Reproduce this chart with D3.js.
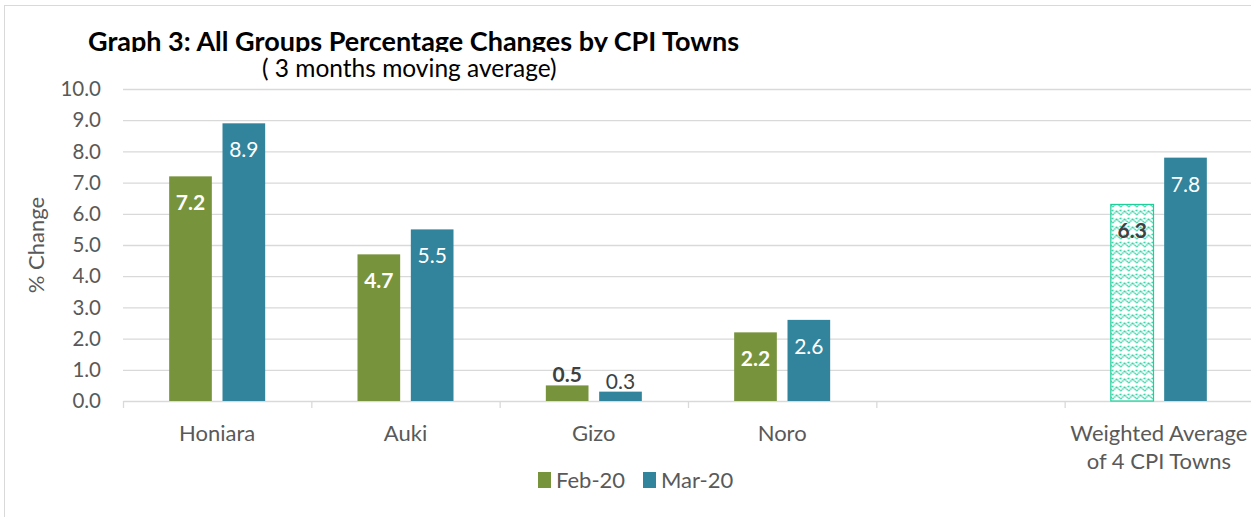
<!DOCTYPE html>
<html>
<head>
<meta charset="utf-8">
<title>Graph 3</title>
<script src="https://d3js.org/d3.v7.min.js"></script>
<style>
  body { margin: 0; background: #fff; }
  svg { font-family: Lato, "Open Sans", sans-serif; }
</style>
</head>
<body>
<div id="chart"></div>
<script>
// data
const towns = ["Honiara", "Auki", "Gizo", "Noro", "", "Weighted Average|of 4 CPI Towns"];
const feb20 = [7.2, 4.7, 0.5, 2.2, null, 6.3];
const mar20 = [8.9, 5.5, 0.3, 2.6, null, 7.8];
const seriesNames = ["Feb-20", "Mar-20"];
const yTicks = [0, 1, 2, 3, 4, 5, 6, 7, 8, 9, 10];

const W = 1251, H = 517;
const margin = { top: 89, right: -2, bottom: 116, left: 123 };
const width = W - margin.left - margin.right;
const height = H - margin.top - margin.bottom;

const green = "#77933c", teal = "#31849b", hatch = "#1ccf9b";

const svg = d3.select("#chart").append("svg")
  .attr("width", W).attr("height", H);

// outer frame
svg.append("rect")
  .attr("x", 4.5).attr("y", 5.5)
  .attr("width", W + 10).attr("height", H + 10)
  .attr("fill", "none").attr("stroke", "#d9d9d9");

// zigzag pattern for the weighted Feb bar
const defs = svg.append("defs");
const pat = defs.append("pattern")
  .attr("id", "zig").attr("patternUnits", "userSpaceOnUse")
  .attr("width", 8).attr("height", 8);
pat.append("rect").attr("width", 8).attr("height", 8).attr("fill", "#fff");
pat.append("path")
  .attr("d", "M0,6 L4,2 L8,6 M-1,3 L1,1 M7,1 L9,3")
  .attr("stroke", hatch).attr("stroke-width", 1.3).attr("fill", "none")
  .attr("stroke-dasharray", "1.5,0.6");

// title box is cut off at the bottom in the original
const titleBox = svg.append("svg")
  .attr("x", 0).attr("y", 0).attr("width", W).attr("height", 52)
  .style("overflow", "hidden");

const g = svg.append("g")
  .attr("transform", `translate(${margin.left},${margin.top})`);

const x = d3.scaleBand().domain(d3.range(towns.length)).range([0, width]);
const x1 = d3.scaleBand().domain([0, 1]).range([x.bandwidth() / 2 - 48, x.bandwidth() / 2 + 48]).paddingInner(0.2);
const y = d3.scaleLinear().domain([0, 10]).range([height, 0]);

// grid
g.selectAll(".grid").data(yTicks.slice(1)).join("line")
  .attr("x1", 0).attr("x2", width)
  .attr("y1", d => y(d) + 0.5).attr("y2", d => y(d) + 0.5)
  .attr("stroke", "#d9d9d9").attr("stroke-width", 1.3);

// y axis labels
g.selectAll(".ylab").data(yTicks).join("text")
  .attr("x", -22).attr("y", d => y(d)).attr("dy", "0.35em")
  .attr("text-anchor", "end").attr("fill", "#595959")
  .style("font-size", "20.5px")
  .text(d => d.toFixed(1));

// x axis
const xAxis = g.append("g").attr("transform", `translate(0,${height})`)
  .call(d3.axisBottom(x).tickSize(0).tickFormat(""));
xAxis.select(".domain").attr("stroke", "#d9d9d9").attr("stroke-width", 1.3);
const bounds = d3.range(towns.length + 1);
xAxis.selectAll(".bt").data(bounds).join("line")
  .attr("x1", d => d * x.step() + 0.5).attr("x2", d => d * x.step() + 0.5)
  .attr("y1", 0).attr("y2", 7).attr("stroke", "#d9d9d9").attr("stroke-width", 1.3);

const xl = g.selectAll(".xlab").data(towns).join("text")
  .attr("text-anchor", "middle").attr("fill", "#595959")
  .style("font-size", "22px")
  .attr("transform", (d, i) => `translate(${x(i) + x.bandwidth() / 2},${height + 40})`);
xl.selectAll("tspan").data(d => d.split("|")).join("tspan")
  .attr("x", 0).attr("dy", (d, i) => i ? 28 : 0).text(d => d);

// bars
const rows = towns.map((t, i) => ({ i, vals: [feb20[i], mar20[i]] }));
const grp = g.selectAll(".grp").data(rows.filter(r => r.vals[0] != null)).join("g")
  .attr("transform", d => `translate(${x(d.i)},0)`);

grp.selectAll("rect").data(d => d.vals.map((v, k) => ({ v, k, i: d.i }))).join("rect")
  .attr("x", d => x1(d.k)).attr("width", x1.bandwidth())
  .attr("y", d => y(d.v)).attr("height", d => height - y(d.v))
  .attr("fill", d => (d.i === 5 && d.k === 0) ? "url(#zig)" : (d.k ? teal : green))
  .attr("stroke", d => (d.i === 5 && d.k === 0) ? hatch : "none")
  .attr("stroke-width", 1.2);

grp.selectAll("text").data(d => d.vals.map((v, k) => ({ v, k, i: d.i }))).join("text")
  .attr("x", d => x1(d.k) + x1.bandwidth() / 2)
  .attr("y", d => d.v < 1 ? y(d.v) - 3 : y(d.v) + 34)
  .attr("text-anchor", "middle")
  .style("font-size", "21px")
  .style("font-weight", d => d.k ? "normal" : "bold")
  .attr("fill", d => (d.v < 1 || (d.i === 5 && d.k === 0)) ? "#404040" : "#fff")
  .text(d => d.v.toFixed(1));

// y axis title
svg.append("text")
  .attr("transform", "translate(44,245) rotate(-90)")
  .attr("text-anchor", "middle").attr("fill", "#595959")
  .style("font-size", "22px").text("% Change");

// titles
titleBox.append("text")
  .attr("x", 88).attr("y", 51)
  .style("font-size", "27px").style("font-weight", "bold").attr("fill", "#000")
  .text("Graph 3: All Groups Percentage Changes by CPI Towns");
svg.append("text")
  .attr("x", 262).attr("y", 77)
  .style("font-size", "24.5px").attr("fill", "#000")
  .text("( 3 months moving average)");

// legend
const leg = svg.append("g").attr("transform", "translate(538,472)");
const li = leg.selectAll("g").data(seriesNames).join("g")
  .attr("transform", (d, i) => `translate(${i * 105},0)`);
li.append("rect").attr("width", 13).attr("height", 16)
  .attr("fill", (d, i) => i ? teal : green);
li.append("text").attr("x", 18).attr("y", 16)
  .attr("fill", "#595959").style("font-size", "22px").text(d => d);
</script>
</body>
</html>
